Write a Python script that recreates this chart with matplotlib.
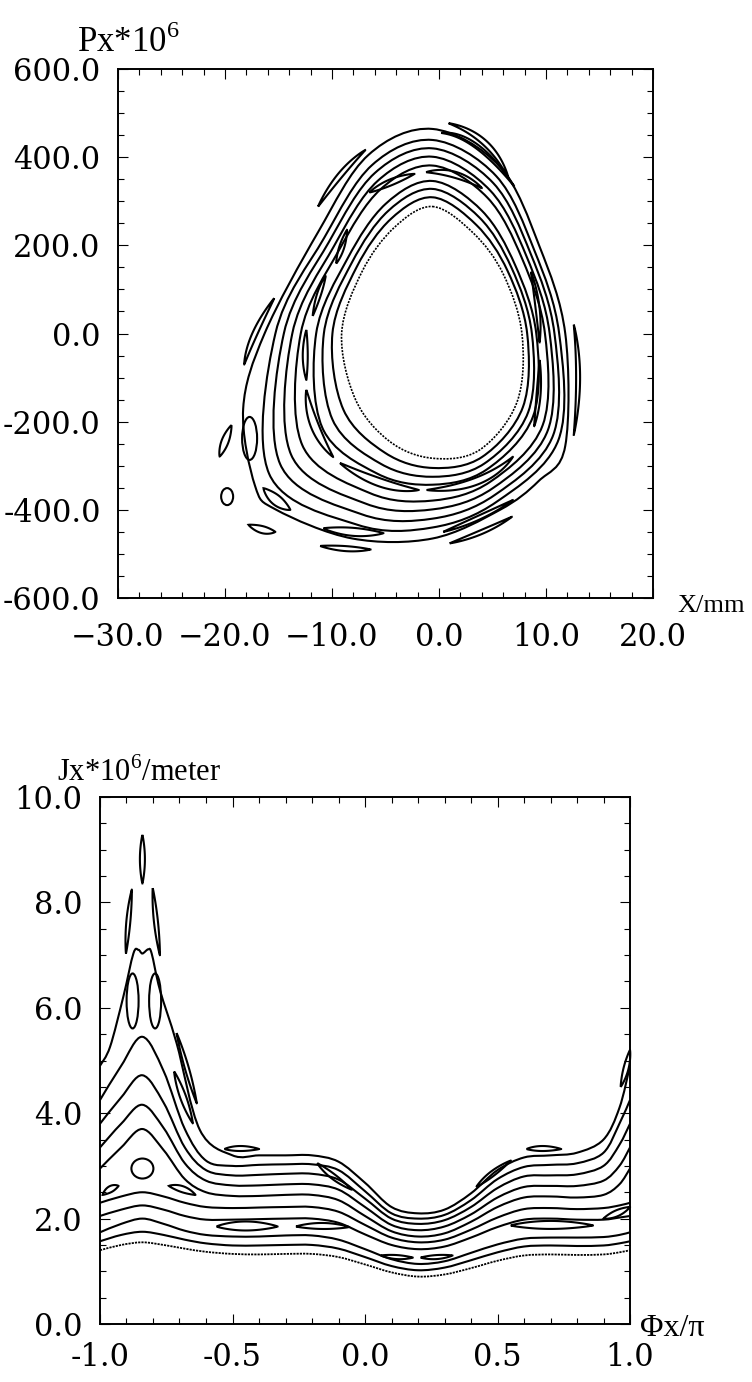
import numpy as np
import matplotlib
matplotlib.use("Agg")
import matplotlib.pyplot as plt
from matplotlib.path import Path
from matplotlib.patches import PathPatch, Ellipse, Polygon
from matplotlib.ticker import MultipleLocator

plt.rcParams["mathtext.fontset"] = "custom"
plt.rcParams["mathtext.rm"] = "Liberation Serif"

# ---------------- top panel: X (mm) vs Px*1e6 ----------------
# tori, outermost first; points go clockwise from the top
top_tori_x = [
    [-0.6, 5.7, 9.4, 11.8, 11.8, 9.3, 5.7, -0.6, -8.1, -15.2, -17.2, -18.3, -16.3, -11.3, -6.6],
    [-0.6, 5.35, 8.92, 11.23, 11.17, 5.43, -0.6, -7.61, -15.88, -15.29, -10.73, -6.26],
    [-0.6, 5.08, 8.55, 10.79, 10.68, 5.23, -0.6, -7.23, -14.85, -14.5, -10.28, -6.0],
    [-0.6, 4.8, 8.18, 10.34, 10.18, 5.02, -0.6, -6.84, -13.82, -13.71, -9.82, -5.74],
    [-0.6, 4.53, 7.8, 9.9, 9.69, 4.81, -0.6, -6.46, -12.78, -12.92, -9.37, -5.47],
    [-0.6, 4.03, 7.12, 9.09, 8.79, 4.43, -0.6, -5.76, -10.9, -11.48, -8.55, -4.99],
    [-0.6, 3.78, 6.78, 8.68, 8.34, 4.24, -0.6, -5.41, -9.96, -10.76, -8.14, -4.75],
    [-0.6, 3.5, 6.41, 8.24, 7.84, 4.03, -0.6, -5.02, -8.93, -9.96, -7.69, -4.49],
    [-0.6, 3.2, 6.0, 7.75, 7.3, 3.8, -0.6, -4.6, -7.8, -9.1, -7.2, -4.2],
]
top_tori_p = [
    [464, 378, 197, 0, -255, -335, -400, -465, -465, -400, -345, -170, 0, 230, 405],
    [439, 357, 188, 0, -241, -381, -440, -434, -318, 0, 217, 382],
    [420, 341, 182, 0, -230, -366, -420, -410, -296, 0, 208, 364],
    [401, 324, 175, 0, -219, -351, -399, -386, -275, 0, 198, 346],
    [381, 308, 168, 0, -208, -336, -379, -362, -253, 0, 188, 327],
    [346, 278, 155, 0, -188, -309, -343, -318, -214, 0, 170, 294],
    [328, 263, 149, 0, -178, -295, -325, -296, -195, 0, 161, 278],
    [309, 246, 142, 0, -167, -280, -305, -271, -173, 0, 151, 260],
    [288, 228, 135, 0, -155, -264, -283, -245, -150, 0, 140, 240],
]
# thin islands: start / middle / end points (X, Px) and width in pixels
top_isl_x = [
    [0.9, 4.3, 6.5], [12.6, 13.0, 12.6], [-11.3, -9.2, -6.9], [-15.4, -17.2, -18.2],
    [-19.4, -20.0, -20.5], [-17.8, -16.5, -15.3], [-16.4, -15.2, -13.9],
    [-10.8, -8.0, -5.2], [-11.1, -8.7, -6.4], [0.4, 3.7, 6.9], [1.0, 4.0, 6.8],
    [0.2, 3.5, 7.0],
    # island chain between the 5th and 6th torus
    [-9.25, -5.5, -1.9], [-1.15, 3.5, 6.9], [-12.4, -11.6, -9.9], [-12.4, -12.5, -12.4],
    [-11.8, -11.2, -10.6], [-9.6, -9.1, -8.6], [-6.5, -4.5, -2.3], [-1.2, 1.5, 4.0],
    [8.6, 9.2, 9.4], [9.4, 9.3, 8.9],
]
top_isl_p = [
    [477, 432, 352], [20, -100, -230], [288, 360, 416], [80, 0, -70],
    [-208, -245, -279], [-434, -445, -450], [-351, -378, -400],
    [-442, -450, -453], [-482, -488, -490], [-450, -418, -378], [-476, -450, -416],
    [455, 425, 335],
    [-294, -338, -355], [-355, -335, -280], [-128, -210, -280], [8, -50, -105],
    [40, 90, 130], [159, 195, 235], [320, 343, 362], [366, 360, 330],
    [140, 60, -20], [-60, -140, -210],
]
top_isl_w = [5, 4, 5, 5, 7, 7, 10, 8, 5, 4, 4, 4,
             8, 7, 8, 5, 4, 5, 6, 6, 4, 4]
# stubby islands: centre, width/height in px
top_blob_x = [-17.7, -19.8]
top_blob_p = [-238, -370]
top_blob_w = [15, 12]
top_blob_h = [43, 17]

# ---------------- bottom panel: Jx*1e6 vs phase/pi ----------------
phi = [-1.0, -0.92, -0.84, -0.76, -0.68, -0.6, -0.5, -0.4, -0.3, -0.2, -0.1, 0.0,
       0.1, 0.2, 0.3, 0.4, 0.5, 0.6, 0.7, 0.8, 0.9, 0.96, 1.0]
bot_curves = [
    [1.40, 1.50, 1.55, 1.50, 1.43, 1.37, 1.33, 1.32, 1.33, 1.33, 1.27, 1.13, 0.98, 0.90, 0.94, 1.06, 1.20, 1.30, 1.32, 1.31, 1.32, 1.36, 1.40],
    [1.57, 1.69, 1.75, 1.69, 1.60, 1.53, 1.49, 1.49, 1.50, 1.50, 1.43, 1.27, 1.10, 1.02, 1.07, 1.21, 1.36, 1.47, 1.49, 1.48, 1.49, 1.53, 1.57],
    [1.74, 1.90, 2.00, 1.90, 1.77, 1.69, 1.66, 1.66, 1.68, 1.68, 1.60, 1.42, 1.23, 1.14, 1.19, 1.35, 1.51, 1.62, 1.64, 1.64, 1.65, 1.69, 1.74],
    [2.05, 2.17, 2.25, 2.17, 2.05, 1.98, 1.98, 1.99, 2.00, 2.00, 1.92, 1.70, 1.50, 1.42, 1.47, 1.64, 1.84, 1.98, 2.00, 1.98, 1.98, 2.02, 2.05],
    [2.30, 2.42, 2.50, 2.42, 2.30, 2.22, 2.20, 2.21, 2.22, 2.22, 2.13, 1.88, 1.64, 1.55, 1.60, 1.79, 2.02, 2.18, 2.20, 2.18, 2.20, 2.25, 2.30],
    [2.95, 3.35, 3.70, 3.30, 2.75, 2.50, 2.43, 2.43, 2.45, 2.45, 2.35, 2.05, 1.76, 1.66, 1.72, 1.94, 2.22, 2.40, 2.42, 2.40, 2.45, 2.65, 2.95],
    [3.35, 3.80, 4.16, 3.72, 3.05, 2.72, 2.63, 2.63, 2.65, 2.65, 2.55, 2.22, 1.88, 1.78, 1.85, 2.08, 2.40, 2.60, 2.62, 2.62, 2.72, 3.00, 3.35],
    [3.80, 4.30, 4.72, 4.20, 3.35, 2.92, 2.82, 2.83, 2.85, 2.85, 2.74, 2.38, 2.00, 1.90, 1.97, 2.22, 2.58, 2.80, 2.82, 2.84, 3.00, 3.40, 3.80],
    [4.25, 4.90, 5.45, 4.80, 3.70, 3.10, 3.00, 3.02, 3.03, 3.03, 2.92, 2.52, 2.10, 2.00, 2.07, 2.35, 2.75, 2.98, 3.02, 3.05, 3.25, 3.80, 4.25],
]
# outermost open curve, with the double hump on top of the peak
hump_phi = [-1.0, -0.962, -0.912, -0.874, -0.855, -0.84, -0.818, -0.805, -0.774, -0.711,
            -0.623, -0.5, -0.4, -0.3, -0.2, -0.1, 0.0, 0.1, 0.2, 0.3, 0.4, 0.5, 0.6,
            0.7, 0.8, 0.9, 0.96, 1.0]
hump_j = [4.9, 5.26, 6.21, 7.03, 7.10, 7.03, 7.11, 7.03, 6.34, 5.33, 3.68, 3.2, 3.2,
          3.2, 3.2, 3.08, 2.68, 2.22, 2.1, 2.17, 2.48, 2.92, 3.16, 3.2, 3.25, 3.5, 4.1, 4.9]
# thin islands: start / middle / end (phi, J) and width in pixels
bot_isl_f = [
    [-0.84, -0.84, -0.84], [-0.902, -0.893, -0.880], [-0.801, -0.789, -0.774],
    [-0.711, -0.672, -0.635], [-0.72, -0.686, -0.65],
    [-0.99, -0.96, -0.93], [-0.74, -0.69, -0.64],
    [-0.56, -0.45, -0.33], [-0.26, -0.16, -0.06], [0.55, 0.70, 0.86], [0.90, 0.95, 1.0],
    [0.06, 0.12, 0.18], [0.21, 0.27, 0.33],
    [-0.18, -0.12, -0.05], [0.42, 0.48, 0.55],
    [-0.53, -0.47, -0.40], [0.61, 0.67, 0.74], [0.965, 0.985, 1.0],
]
bot_isl_j = [
    [9.28, 8.82, 8.36], [7.03, 7.64, 8.24], [8.27, 7.64, 7.00],
    [5.52, 4.85, 4.19], [4.79, 4.30, 3.81],
    [2.45, 2.56, 2.62], [2.62, 2.56, 2.45],
    [1.85, 1.86, 1.85], [1.85, 1.86, 1.84], [1.87, 1.88, 1.87], [2.0, 2.1, 2.22],
    [1.30, 1.27, 1.26], [1.26, 1.27, 1.30],
    [3.05, 2.8, 2.55], [2.6, 2.85, 3.1],
    [3.32, 3.33, 3.32], [3.32, 3.33, 3.32], [4.5, 4.85, 5.2],
]
bot_isl_w = [5, 4, 4, 4, 6, 6, 6, 9, 6, 8, 6, 4, 4, 5, 5, 5, 5, 5]
bot_blob_f = [-0.877, -0.792, -0.84]
bot_blob_j = [6.13, 6.13, 2.95]
bot_blob_w = [12, 12, 22]
bot_blob_h = [55, 55, 20]


def spline_path(xs, ys, closed=True):
    pts = np.column_stack([xs, ys]).astype(float)
    if closed:
        P = np.vstack([pts[-1], pts, pts[0], pts[1]])
    else:
        P = np.vstack([pts[0], pts, pts[-1]])
    verts = [P[1]]
    codes = [Path.MOVETO]
    for i in range(1, len(P) - 2):
        p0, p1, p2, p3 = P[i - 1], P[i], P[i + 1], P[i + 2]
        verts += [p1 + (p2 - p0) / 6, p2 - (p3 - p1) / 6, p2]
        codes += [Path.CURVE4] * 3
    return Path(verts, codes)


def leaf(ax, xs, ys, w, lw=1.5):
    # thin closed island along a bent centre line, drawn in pixel space
    p0, p1, p2 = ax.transData.transform(np.column_stack([xs, ys]))
    c = 2 * p1 - (p0 + p2) / 2
    t = np.linspace(0, 1, 41)[:, None]
    b = (1 - t) ** 2 * p0 + 2 * t * (1 - t) * c + t ** 2 * p2
    d = 2 * (1 - t) * (c - p0) + 2 * t * (p2 - c)
    n = np.column_stack([-d[:, 1], d[:, 0]])
    n /= np.linalg.norm(n, axis=1, keepdims=True)
    half = w / 2 * np.sin(np.pi * t) ** 0.8
    poly = np.vstack([b + n * half, (b - n * half)[::-1]])
    ax.add_patch(Polygon(poly, closed=True, fill=False, lw=lw, ec="black",
                         transform=None, clip_on=False))


def blob(ax, x, y, w, h, lw=1.5):
    c = ax.transData.transform((x, y))
    ax.add_patch(Ellipse(c, w, h, fill=False, lw=lw, ec="black",
                         transform=None, clip_on=False))


def style_axes(ax, xpad):
    for s in ax.spines.values():
        s.set_linewidth(1.4)
    ax.tick_params(which="both", direction="in", top=True, right=True,
                   width=0.8, labelsize=22)
    ax.tick_params(which="major", length=7.2)
    ax.tick_params(which="minor", length=4.3)
    ax.tick_params(axis="y", pad=12.5)
    ax.tick_params(axis="x", pad=xpad)
    for lab in ax.get_xticklabels() + ax.get_yticklabels():
        lab.set_family("DejaVu Serif")


W, H = 752, 1382
fig = plt.figure(figsize=(W / 100, H / 100), dpi=100)
ax1 = fig.add_axes([118 / W, 1 - 598 / H, 535 / W, 529 / H])
ax2 = fig.add_axes([100 / W, 1 - 1324 / H, 530 / W, 527 / H])

ax1.set_xlim(-30, 20)
ax1.set_ylim(-600, 600)
ax1.xaxis.set_major_locator(MultipleLocator(10))
ax1.xaxis.set_minor_locator(MultipleLocator(2))
ax1.yaxis.set_major_locator(MultipleLocator(200))
ax1.yaxis.set_minor_locator(MultipleLocator(50))
ax1.xaxis.set_major_formatter(lambda v, p: f"{v:.1f}".replace("-", "\u2212"))
ax1.yaxis.set_major_formatter(lambda v, p: f"{v:.1f}")

ax2.set_xlim(-1, 1)
ax2.set_ylim(0, 10)
ax2.xaxis.set_major_locator(MultipleLocator(0.5))
ax2.xaxis.set_minor_locator(MultipleLocator(0.1))
ax2.yaxis.set_major_locator(MultipleLocator(2))
ax2.yaxis.set_minor_locator(MultipleLocator(0.5))
ax2.xaxis.set_major_formatter(lambda v, p: f"{v:.1f}")
ax2.yaxis.set_major_formatter(lambda v, p: f"{v:.1f}")

style_axes(ax1, 17)
style_axes(ax2, 13)

for i, (xs, ps) in enumerate(zip(top_tori_x, top_tori_p)):
    last = i == len(top_tori_x) - 1
    ax1.add_patch(PathPatch(spline_path(xs, ps), fill=False, ec="black",
                            lw=1.2 if last else 1.5,
                            ls=(0, (1.2, 0.8)) if last else "-"))
for xs, ps, w in zip(top_isl_x, top_isl_p, top_isl_w):
    leaf(ax1, xs, ps, w)
for x, p, w, h in zip(top_blob_x, top_blob_p, top_blob_w, top_blob_h):
    blob(ax1, x, p, w, h)

for i, js in enumerate(bot_curves):
    ax2.add_patch(PathPatch(spline_path(phi, js, closed=False), fill=False,
                            ec="black", lw=1.3 if i == 0 else 1.5,
                            ls=(0, (1.2, 0.6)) if i == 0 else "-"))
ax2.add_patch(PathPatch(spline_path(hump_phi, hump_j, closed=False), fill=False,
                        ec="black", lw=1.5))
for fs, js, w in zip(bot_isl_f, bot_isl_j, bot_isl_w):
    leaf(ax2, fs, js, w)
for f, j, w, h in zip(bot_blob_f, bot_blob_j, bot_blob_w, bot_blob_h):
    blob(ax2, f, j, w, h)

lab_font = ["Liberation Serif", "DejaVu Serif"]
fig.text(128 / W, 1 - 52 / H, "Px*10$^6$", family=lab_font, fontsize=25,
         ha="center", va="baseline")
fig.text(711 / W, 1 - 612 / H, "X/mm", family=lab_font, fontsize=19,
         ha="center", va="baseline")
fig.text(139 / W, 1 - 781 / H, "Jx*10$^6$/meter", family=lab_font, fontsize=22,
         ha="center", va="baseline")
fig.text(672 / W, 1 - 1336 / H, "\u03a6x/\u03c0", family=lab_font, fontsize=23,
         ha="center", va="baseline")

fig.savefig("out.png", dpi=100)
